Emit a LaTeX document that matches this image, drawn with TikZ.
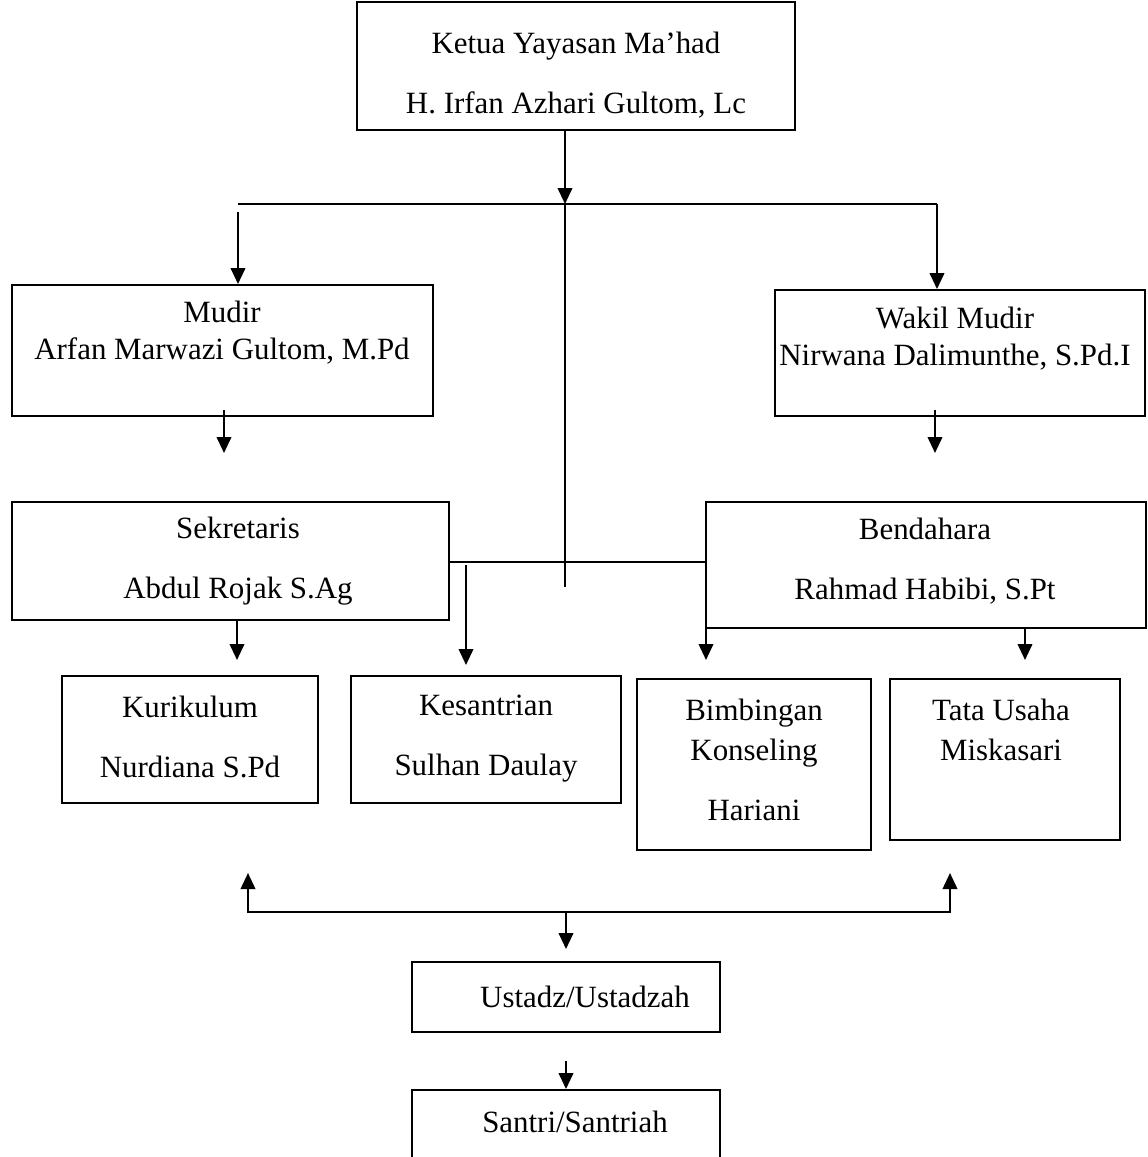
\documentclass[tikz,border=0pt]{standalone}
\usepackage{fontspec}
\setmainfont{Liberation Serif}
\usetikzlibrary{arrows.meta,positioning}
\definecolor{orgedge}{RGB}{0,0,0}
\tikzset{
  orgbox/.style={draw=orgedge, line width=1.1pt, inner sep=0pt},
  orgtxt/.style={align=center, inner sep=0pt, font=\fontsize{17.6}{21.2}\selectfont},
  arr/.style={-{Triangle[length=3.2mm,width=2.9mm]}, draw=orgedge, line width=1.3pt},
  arrs/.style={{Triangle[length=3.2mm,width=2.9mm]}-{Triangle[length=3.2mm,width=2.9mm]}, draw=orgedge, line width=1.3pt},
  bus/.style={draw=orgedge, line width=1.3pt}
}

\begin{document}
\begin{tikzpicture}[x=0.02cm, y=-0.02cm]
  \useasboundingbox (0,0) rectangle (1147,1157);
  % boxes
  \node[orgbox, minimum width=87.6mm, minimum height=25.6mm] (ketua) at (576,66) {};
  \node[orgbox, minimum width=84.2mm, minimum height=26.2mm] (mudir) at (222.5,350.5) {};
  \node[orgbox, minimum width=74mm, minimum height=25.2mm] (wakil) at (960,353) {};
  \node[orgbox, minimum width=87.4mm, minimum height=23.6mm] (sek) at (230.5,561) {};
  \node[orgbox, minimum width=88mm, minimum height=25.2mm] (bend) at (926,565) {};
  \node[orgbox, minimum width=51.2mm, minimum height=25.4mm] (kuri) at (190,739.5) {};
  \node[orgbox, minimum width=54mm, minimum height=25.4mm] (kesa) at (486,739.5) {};
  \node[orgbox, minimum width=46.8mm, minimum height=34.2mm] (bimb) at (754,764.5) {};
  \node[orgbox, minimum width=46mm, minimum height=32.2mm] (tata) at (1005,759.5) {};
  \node[orgbox, minimum width=61.6mm, minimum height=14mm] (ustadz) at (566,997) {};
  \node[orgbox, minimum width=61.6mm, minimum height=18mm] (santri) at (566,1135) {};
  % texts
  \node[orgtxt] (ketua-t) at (576,75) {Ketua Yayasan Ma’had\\[12.9pt]H. Irfan Azhari Gultom, Lc};
  \node[orgtxt] (mudir-t) at (222,333) {Mudir\\Arfan Marwazi Gultom, M.Pd};
  \node[orgtxt] (wakil-t) at (955,339) {Wakil Mudir\\Nirwana Dalimunthe, S.Pd.I};
  \node[orgtxt] (sek-t) at (238,561) {Sekretaris\\[12.9pt]Abdul Rojak S.Ag};
  \node[orgtxt] (bend-t) at (925,561) {Bendahara\\[12.9pt]Rahmad Habibi, S.Pt};
  \node[orgtxt] (kuri-t) at (190,737) {Kurikulum\\[12.9pt]Nurdiana S.Pd};
  \node[orgtxt] (kesa-t) at (486,739) {Kesantrian\\[12.9pt]Sulhan Daulay};
  \node[orgtxt] (bimb-t) at (754,760) {Bimbingan\\[1.6pt]Konseling\\[12.9pt]Hariani};
  \node[orgtxt] (tata-t) at (1001,730) {Tata Usaha\\[1.6pt]Miskasari};
  \node[orgtxt] (ustadz-t) at (585,997) {Ustadz/Ustadzah};
  \node[orgtxt] (santri-t) at (575,1122) {Santri/Santriah};
  % joints
  \coordinate (hub) at (565,204);
  \coordinate (hubL) at (238,204);
  \coordinate (hubR) at (937,204);
  \coordinate (spine) at (565,587);
  \coordinate (mudirtip) at (224,453);
  \coordinate (wakiltip) at (935,453);
  \coordinate (bline) at (706,562);
  \coordinate (bimbtip) at (706,660);
  \coordinate (kesatip) at (466,665);
  \coordinate (sektip) at (237,660);
  \coordinate (bendtip) at (1025,660);
  \coordinate (lowL) at (248,912);
  \coordinate (lowR) at (950,912);
  % connectors
  \draw[arr] (ketua.south -| hub) -- (hub);
  \draw[bus] (hubL) -- (hubR);
  \draw[bus] (hub) -- (spine);
  \draw[arr] ([yshift=-0.16cm]hubL) -- (hubL |- mudir.north);
  \draw[arr] (hubR) -- (hubR |- wakil.north);
  \draw[arr] ([yshift=0.14cm]mudir.south -| mudirtip) -- (mudirtip);
  \draw[arr] ([yshift=0.14cm]wakil.south -| wakiltip) -- (wakiltip);
  \draw[arr] (sek.east |- bline) -- (bline) -- (bimbtip);
  \draw[arr] ([yshift=-0.06cm]kesatip |- bline) -- (kesatip);
  \draw[arr] (sek.south -| sektip) -- (sektip);
  \draw[arr] (bend.south -| bendtip) -- (bendtip);
  \draw[arrs] ([yshift=0.78cm]lowL) -- (lowL) -- (lowR) -- ([yshift=0.78cm]lowR);
  \draw[arr] (lowL -| ustadz) -- ([yshift=0.24cm]ustadz.north);
  \draw[arr] ([yshift=0.56cm]santri.north) -- (santri.north);
\end{tikzpicture}
\end{document}
